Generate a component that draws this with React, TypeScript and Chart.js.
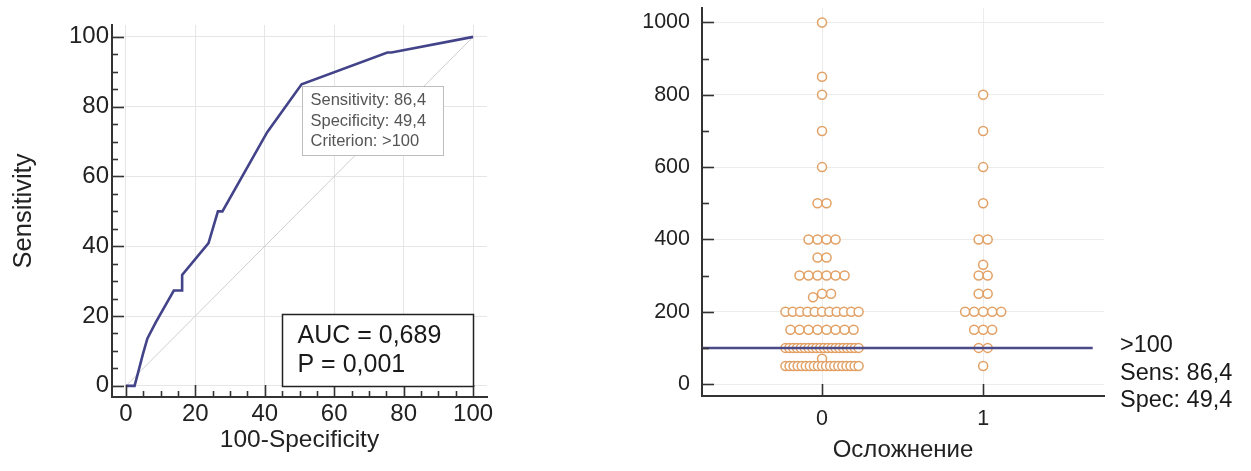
import React, { useEffect, useRef } from "react";
import { Chart, registerables } from "chart.js";
Chart.register(...registerables);

// ---------- ROC curve data (left panel) ----------
const rocFpr = [0, 1.2, 2.5, 3.7, 4.9, 6.2, 8.6, 13.8, 16.2, 16.2, 23.8, 26.5, 27.8, 40.7, 50.6, 75.3, 76.5, 100];
const rocSens = [0, 0, 0, 4.5, 9.1, 13.6, 18.2, 27.3, 27.3, 31.8, 40.9, 50, 50, 72.7, 86.4, 95.5, 95.5, 100];
const diagX = [0, 100];
const diagY = [0, 100];
const rocTicks = [0, 20, 40, 60, 80, 100];
const rocMinorTicks = [5, 10, 15, 25, 30, 35, 45, 50, 55, 65, 70, 75, 85, 90, 95];
const critPoint = [50.6, 86.4];
const critLines = ["Sensitivity: 86,4", "Specificity: 49,4", "Criterion: >100"];
const aucLines = ["AUC = 0,689", "P = 0,001"];

// ---------- Dot plot data (right panel) ----------
const groupLabels = ["0", "1"];
const group0Values = [1000, 850, 800, 700, 600, 500, 400, 350, 300, 250, 240, 200, 150, 100, 70, 50];
const group0Counts = [1, 1, 1, 1, 1, 2, 4, 2, 6, 2, 1, 11, 8, 20, 1, 19];
const group1Values = [800, 700, 600, 500, 400, 330, 300, 250, 200, 150, 100, 50];
const group1Counts = [1, 1, 1, 1, 2, 1, 2, 2, 5, 3, 2, 1];
const valueTicks = [0, 200, 400, 600, 800, 1000];
const valueMinorTicks = [100, 300, 500, 700, 900];
const criterionValue = 100;
const criterionLineEnd = 1.68;
const sideLines = [">100", "Sens: 86,4", "Spec: 49,4"];

const FONT = "'Liberation Sans', Arial, Helvetica, sans-serif";
Chart.defaults.font.family = FONT;

const DOT_STEP = 0.056;
const MAX_HALF = 0.227;

function buildDots(cat: number, values: number[], counts: number[]) {
  const pts: number[] = [];
  values.forEach((v, i) => {
    for (let k = 0; k < counts[i]; k++) pts.push(v);
  });
  pts.sort((a, b) => b - a);
  const rows: number[][] = [];
  for (const v of pts) {
    const row = rows[rows.length - 1];
    if (row && row[0] - v <= 12) row.push(v);
    else rows.push([v]);
  }
  const out: { x: number; y: number }[] = [];
  for (const row of rows) {
    row.sort((a, b) => a - b);
    const n = row.length;
    const step = n > 1 ? Math.min(DOT_STEP, (2 * MAX_HALF) / (n - 1)) : 0;
    row.forEach((v, j) => out.push({ x: cat + (j - (n - 1) / 2) * step, y: v }));
  }
  return out;
}

function drawLine(ctx: CanvasRenderingContext2D, x1: number, y1: number, x2: number, y2: number) {
  ctx.beginPath();
  ctx.moveTo(x1, y1);
  ctx.lineTo(x2, y2);
  ctx.stroke();
}

function ticksPlugin(opts: {
  xMajor: number[]; xMinor: number[]; yMajor: number[]; yMinor: number[];
  majorLen: number; minorLen: number;
}) {
  return {
    id: "inwardTicks",
    afterDatasetsDraw(chart: any) {
      const ctx = chart.ctx as CanvasRenderingContext2D;
      const { left, bottom } = chart.chartArea;
      const xs = chart.scales.x;
      const ys = chart.scales.y;
      ctx.save();
      ctx.strokeStyle = "#333";
      ctx.lineWidth = 1.6;
      opts.yMajor.forEach((v) => { const p = Math.round(ys.getPixelForValue(v)) + 0.5; drawLine(ctx, left, p, left + opts.majorLen, p); });
      opts.yMinor.forEach((v) => { const p = Math.round(ys.getPixelForValue(v)) + 0.5; drawLine(ctx, left, p, left + opts.minorLen, p); });
      opts.xMajor.forEach((v) => { const p = Math.round(xs.getPixelForValue(v)) + 0.5; drawLine(ctx, p, bottom, p, bottom - opts.majorLen); });
      opts.xMinor.forEach((v) => { const p = Math.round(xs.getPixelForValue(v)) + 0.5; drawLine(ctx, p, bottom, p, bottom - opts.minorLen); });
      ctx.restore();
    },
  };
}

const leftBoxes = {
  id: "rocBoxes",
  afterDatasetsDraw(chart: any) {
    const ctx = chart.ctx as CanvasRenderingContext2D;
    const xs = chart.scales.x;
    const ys = chart.scales.y;
    ctx.save();
    // criterion box
    const bx = Math.round(xs.getPixelForValue(critPoint[0])) + 0.5;
    const by = Math.round(ys.getPixelForValue(critPoint[1])) + 2.5;
    ctx.fillStyle = "#fff";
    ctx.fillRect(bx, by, 141, 69);
    ctx.strokeStyle = "#bdbdbd";
    ctx.lineWidth = 1;
    ctx.strokeRect(bx, by, 141, 69);
    ctx.fillStyle = "#555";
    ctx.font = `16.5px ${FONT}`;
    ctx.textBaseline = "middle";
    ctx.textAlign = "left";
    critLines.forEach((t, i) => ctx.fillText(t, bx + 8, by + 14 + i * 20.5));
    // AUC box
    const right = Math.round(xs.getPixelForValue(100)) + 0.5;
    const bottom = Math.round(ys.getPixelForValue(0)) + 0.5;
    const w = 191, h = 72;
    ctx.fillStyle = "#fff";
    ctx.fillRect(right - w, bottom - h, w, h);
    ctx.strokeStyle = "#222";
    ctx.lineWidth = 1.5;
    ctx.strokeRect(right - w, bottom - h, w, h);
    ctx.fillStyle = "#1a1a1a";
    ctx.font = `25px ${FONT}`;
    aucLines.forEach((t, i) => ctx.fillText(t, right - w + 15, bottom - h + 22 + i * 29));
    ctx.restore();
  },
};

const rightText = {
  id: "critText",
  afterDraw(chart: any) {
    const ctx = chart.ctx as CanvasRenderingContext2D;
    const ys = chart.scales.y;
    const x0 = chart.chartArea.right + 16;
    const y0 = ys.getPixelForValue(criterionValue) - 2;
    ctx.save();
    ctx.fillStyle = "#1a1a1a";
    ctx.font = `23.5px ${FONT}`;
    ctx.textBaseline = "middle";
    ctx.textAlign = "left";
    sideLines.forEach((t, i) => ctx.fillText(t, x0, y0 + i * 27.5));
    ctx.restore();
  },
};

const noPadY = (width: number) => (s: any) => {
  s.width = width;
  s.paddingTop = 0;
  s.paddingBottom = 0;
};
const noPadX = (height: number) => (s: any) => {
  s.height = height;
  s.paddingLeft = 0;
  s.paddingRight = 0;
};
const plain = (v: any) => String(v);

function leftConfig(): any {
  return {
    type: "scatter",
    data: {
      datasets: [
        {
          data: rocFpr.map((x, i) => ({ x, y: rocSens[i] })),
          showLine: true,
          borderColor: "#43438a",
          borderWidth: 2.6,
          pointRadius: 0,
          tension: 0,
          order: 0,
        },
        {
          data: diagX.map((x, i) => ({ x, y: diagY[i] })),
          showLine: true,
          borderColor: "#cfcfcf",
          borderWidth: 1,
          pointRadius: 0,
          order: 1,
        },
      ],
    },
    options: {
      animation: false,
      responsive: false,
      devicePixelRatio: 1,
      events: [],
      layout: { padding: { left: 0, top: 25, right: 33, bottom: 0 } },
      plugins: { legend: { display: false }, tooltip: { enabled: false } },
      scales: {
        x: {
          type: "linear",
          min: -4,
          max: 104,
          afterBuildTicks: (s: any) => { s.ticks = rocTicks.map((v) => ({ value: v })); },
          afterFit: noPadX(74),
          grid: { color: "#e6e6e6", lineWidth: 1, drawTicks: false },
          border: { display: true, color: "#333", width: 2 },
          ticks: { color: "#222", font: { size: 24 }, padding: 3, maxRotation: 0, callback: plain },
          title: { display: true, text: "100-Specificity", color: "#222", font: { size: 24.5 }, padding: { top: 0, bottom: 16 } },
        },
        y: {
          type: "linear",
          min: -3.2,
          max: 103.4,
          afterBuildTicks: (s: any) => { s.ticks = rocTicks.map((v) => ({ value: v })); },
          afterFit: noPadY(112),
          grid: { color: "#e6e6e6", lineWidth: 1, drawTicks: false },
          border: { display: true, color: "#333", width: 2 },
          ticks: { color: "#222", font: { size: 24 }, padding: 3, callback: plain },
          title: { display: true, text: "Sensitivity", color: "#222", font: { size: 25.5 }, padding: { top: 9, bottom: 0 } },
        },
      },
    },
    plugins: [
      ticksPlugin({ xMajor: rocTicks, xMinor: rocMinorTicks, yMajor: rocTicks, yMinor: rocMinorTicks, majorLen: 12, minorLen: 6 }),
      leftBoxes,
    ],
  };
}

function rightConfig(): any {
  const dotStyle = {
    pointRadius: 4.5,
    pointBorderWidth: 1.5,
    pointBorderColor: "#e2a064",
    pointBackgroundColor: "#ffffff",
    showLine: false,
    order: 1,
  };
  return {
    type: "scatter",
    data: {
      datasets: [
        {
          data: [{ x: -0.745, y: criterionValue }, { x: criterionLineEnd, y: criterionValue }],
          showLine: true,
          borderColor: "#4a4a88",
          borderWidth: 2.5,
          pointRadius: 0,
          order: 0,
        },
        { data: buildDots(0, group0Values, group0Counts), ...dotStyle },
        { data: buildDots(1, group1Values, group1Counts), ...dotStyle },
      ],
    },
    options: {
      animation: false,
      responsive: false,
      devicePixelRatio: 1,
      events: [],
      layout: { padding: { left: 0, top: 8, right: 147, bottom: 0 } },
      plugins: { legend: { display: false }, tooltip: { enabled: false } },
      scales: {
        x: {
          type: "linear",
          min: -0.745,
          max: 1.75,
          afterBuildTicks: (s: any) => { s.ticks = groupLabels.map((_, i) => ({ value: i })); },
          afterFit: noPadX(75),
          grid: { color: "#ececec", lineWidth: 1, drawTicks: false },
          border: { display: true, color: "#333", width: 2 },
          ticks: {
            color: "#222",
            font: { size: 21.5 },
            padding: 10,
            maxRotation: 0,
            callback: (v: any) => groupLabels[Math.round(v)] ?? "",
          },
          title: { display: true, text: "Осложнение", color: "#222", font: { size: 24 }, padding: { top: 0, bottom: 6 } },
        },
        y: {
          type: "linear",
          min: -33,
          max: 1040,
          afterBuildTicks: (s: any) => { s.ticks = valueTicks.map((v) => ({ value: v })); },
          afterFit: noPadY(102),
          grid: { color: "#ececec", lineWidth: 1, drawTicks: false },
          border: { display: true, color: "#333", width: 2 },
          ticks: { color: "#222", font: { size: 21.5 }, padding: 12, callback: plain },
        },
      },
    },
    plugins: [
      ticksPlugin({ xMajor: [0, 1], xMinor: [], yMajor: valueTicks, yMinor: valueMinorTicks, majorLen: 12, minorLen: 7 }),
      rightText,
    ],
  };
}

export default function App() {
  const leftRef = useRef<HTMLCanvasElement>(null);
  const rightRef = useRef<HTMLCanvasElement>(null);
  useEffect(() => {
    const c1 = new Chart(leftRef.current as HTMLCanvasElement, leftConfig());
    const c2 = new Chart(rightRef.current as HTMLCanvasElement, rightConfig());
    return () => {
      c1.destroy();
      c2.destroy();
    };
  }, []);
  return (
    <div style={{ position: "absolute", left: 0, top: 0, width: 1251, height: 471, background: "#fff", overflow: "hidden" }}>
      <canvas ref={leftRef} width={520} height={471} style={{ position: "absolute", left: 0, top: 0, width: 520, height: 471 }} />
      <canvas ref={rightRef} width={651} height={471} style={{ position: "absolute", left: 600, top: 0, width: 651, height: 471 }} />
    </div>
  );
}
